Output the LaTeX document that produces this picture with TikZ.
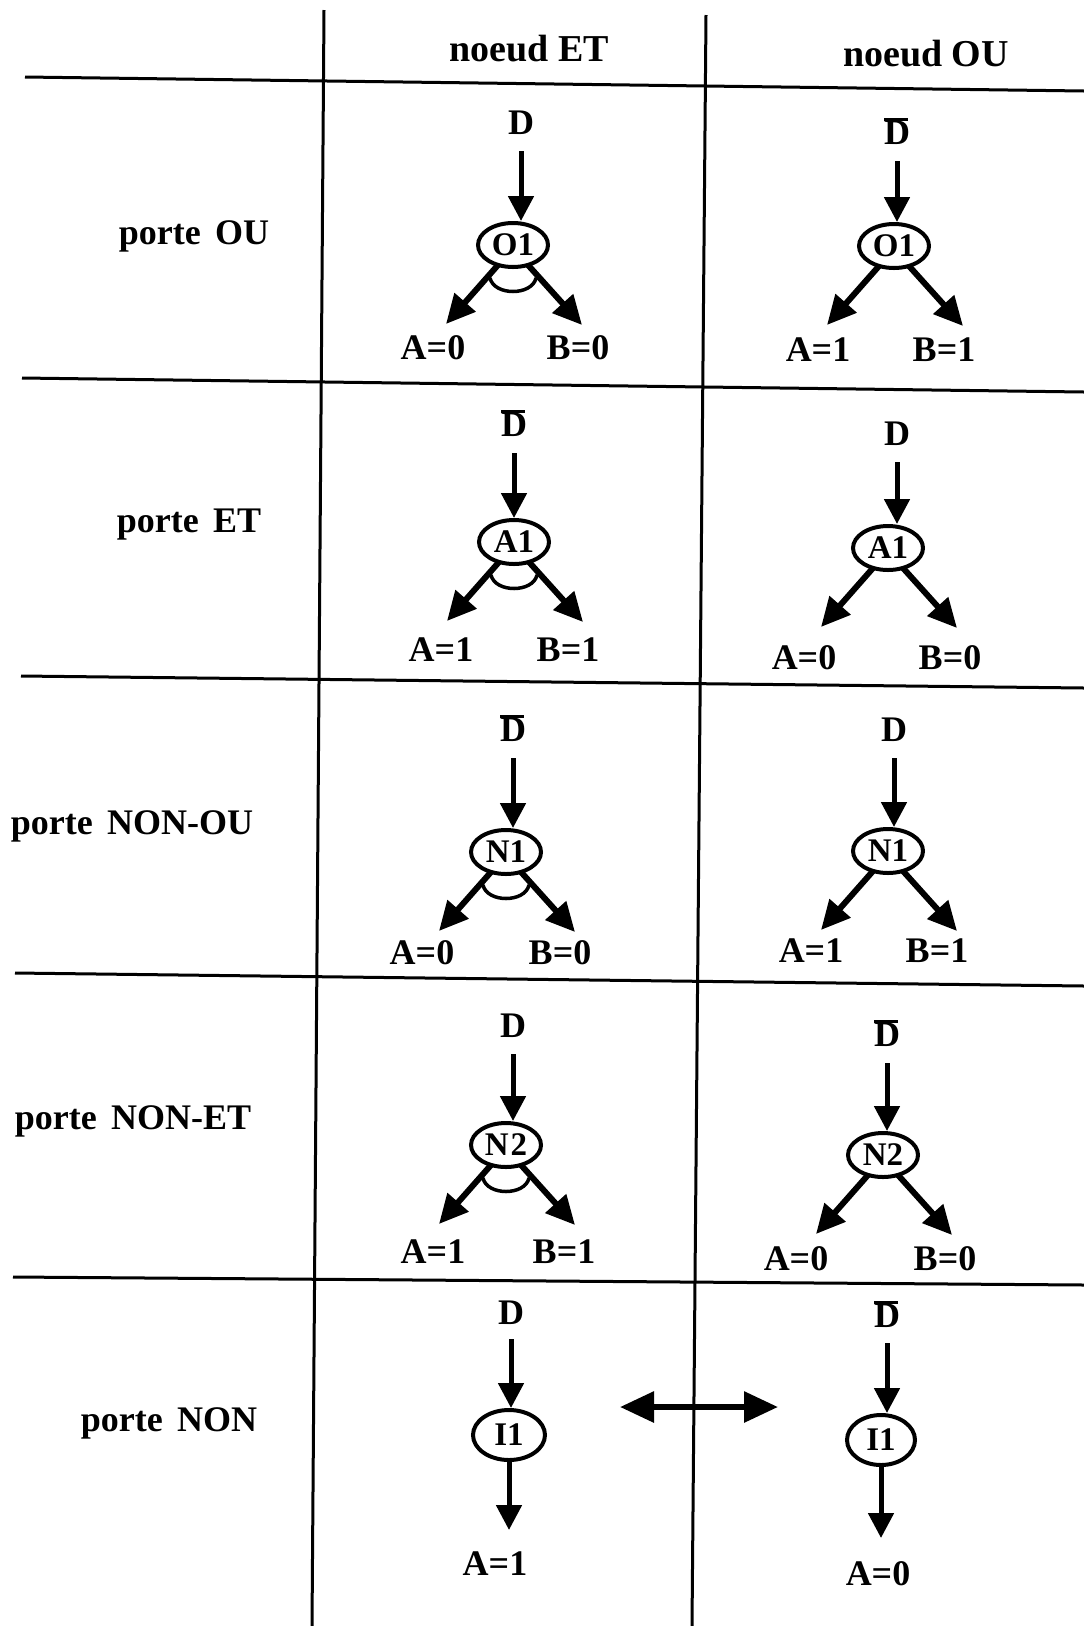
\documentclass[tikz,border=0pt]{standalone}
\usepackage{fontspec}
\setmainfont{Liberation Serif}
\usetikzlibrary{arrows.meta,shapes.geometric,calc}
\newcommand\Dbar{\leavevmode\rlap{\rule[0.63em]{0.68em}{0.1em}}D}
\newcommand\gcell[9]{%
  \node[ell] (#1e) at (#2) {#3};
  \node[lab] (#1d) at (#4) {#5};
  \node[lab] (#1a) at (#6) {#7};
  \node[lab] (#1b) at (#8) {#9};
  \coordinate (#1ls) at ($(#1e)+(-15,20)$);
  \coordinate (#1rs) at ($(#1e)+(15,20)$);
  \coordinate (#1lt) at ($(#1e)+(-67,79)$);
  \coordinate (#1rt) at ($(#1e)+(69,80)$);
  \draw[varr] ($(#1d)+(0,29)$) -- (#1d |- #1e.north);
  \draw[barr] (#1ls) -- (#1lt);
  \draw[barr] (#1rs) -- (#1rt);
}
\newcommand\andmark[1]{%
  \draw[andarc] ($(#1e)+(-23,33)$) .. controls +(4,18) and +(-4,18) .. ($(#1e)+(23,33)$);
}
\tikzset{
  grid/.style={line width=3pt},
  lab/.style={inner sep=0pt, text height=24pt, text depth=0pt, font=\bfseries\fontsize{36}{42}\selectfont},
  hdr/.style={lab, font=\bfseries\fontsize{38}{44}\selectfont},
  ell/.style={ellipse, draw, line width=4pt, inner sep=0pt, minimum width=70pt, minimum height=44pt, font=\bfseries\fontsize{33}{40}\selectfont},
  varr/.style={line width=5pt, -{Triangle[length=25pt,width=25pt]}},
  barr/.style={line width=6pt, -{Triangle[length=29pt,width=27pt]}},
  andarc/.style={line width=3.5pt},
  darr/.style={line width=6pt, {Triangle[length=34pt,width=30pt]}-{Triangle[length=34pt,width=30pt]}},
}
\begin{document}
\begin{tikzpicture}[x=1pt,y=-1pt]
\fill[white] (0,0) rectangle (1084,1626);
\useasboundingbox (0,0) rectangle (1084,1626);
% grid
\draw[grid] (25,77) -- (1084,91);
\draw[grid] (22,378) -- (1084,392);
\draw[grid] (21,676) -- (1084,688);
\draw[grid] (15,973) -- (1084,986);
\draw[grid] (13,1277) -- (1084,1285);
\draw[grid] (324,10) -- (312,1626);
\draw[grid] (706,15) -- (692,1626);
% headers
\node[hdr] (h1) at (529,49) {noeud ET};
\node[hdr] (h2) at (926,54) {noeud OU};
% row labels
\node[lab] (r1) at (194,232) {porte\hspace{0.4em}OU};
\node[lab] (r2) at (189,520) {porte\hspace{0.4em}ET};
\node[lab] (r3) at (132,822) {porte\hspace{0.4em}NON-OU};
\node[lab] (r4) at (133,1117) {porte\hspace{0.4em}NON-ET};
\node[lab] (r5) at (169,1419) {porte\hspace{0.4em}NON};
% row 1
\gcell{aa}{513,245}{O1}{521,122}{D}{433,347}{A=0}{578,347}{B=0}
\andmark{aa}
\gcell{ab}{894,246}{O1}{897,132}{\Dbar}{818,349}{A=1}{944,349}{B=1}
% row 2
\gcell{ba}{514,542}{A1}{514,424}{\Dbar}{441,649}{A=1}{568,649}{B=1}
\andmark{ba}
\gcell{bb}{888,548}{A1}{897,433}{D}{804,657}{A=0}{950,657}{B=0}
% row 3
\gcell{ca}{506,852}{N1}{513,729}{\Dbar}{422,952}{A=0}{560,952}{B=0}
\andmark{ca}
\gcell{cb}{888,851}{N1}{894,729}{D}{811,950}{A=1}{937,950}{B=1}
% row 4
\gcell{da}{506,1145}{N\kern2pt2}{513,1025}{D}{433,1251}{A=1}{564,1251}{B=1}
\andmark{da}
\gcell{db}{883,1155}{N2}{887,1034}{\Dbar}{796,1258}{A=0}{945,1258}{B=0}
% row 5
\node[ell, minimum width=72pt, minimum height=50pt] (eae) at (509,1435) {I1};
\node[lab] (ead) at (511,1312) {D};
\node[lab] (eaa) at (495,1563) {A=1};
\draw[varr] ($(ead)+(0,27)$) -- (ead |- eae.north);
\draw[varr] (eae.south) -- ($(eae.south |- eaa)+(0,-33)$);
\node[ell, minimum width=68pt, minimum height=50pt] (ebe) at (881,1440) {I1};
\node[lab] (ebd) at (887,1315) {\Dbar};
\node[lab] (eba) at (878,1573) {A=0};
\draw[varr] ($(ebd)+(0,28)$) -- (ebd |- ebe.north);
\draw[varr] (ebe.south) -- ($(ebe.south |- eba)+(0,-35)$);
\coordinate (dl) at (620,1407);
\coordinate (dr) at (778,1407);
\draw[darr] (dl) -- (dr);
\end{tikzpicture}
\end{document}
